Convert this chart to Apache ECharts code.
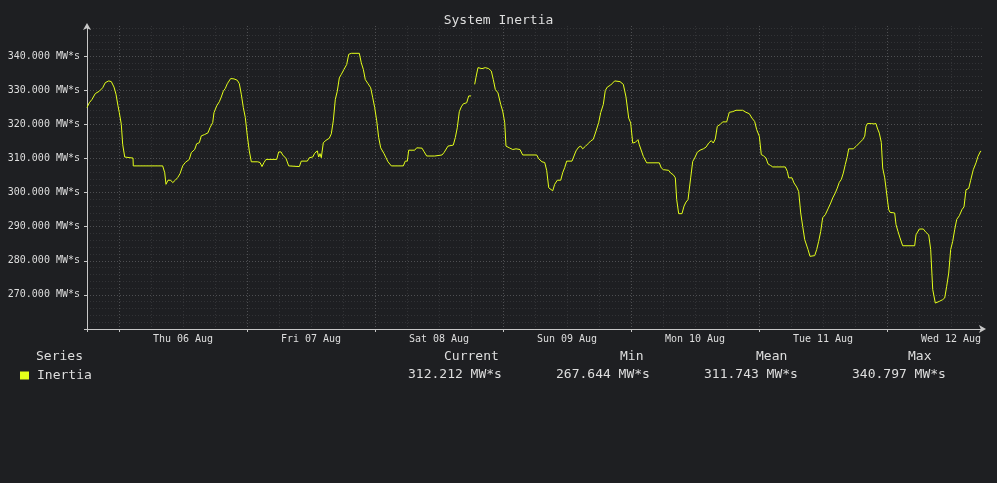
<!DOCTYPE html>
<html>
<head>
<meta charset="utf-8">
<script src="https://cdn.jsdelivr.net/npm/echarts@6/dist/echarts.min.js"></script>
<style>
  html, body { margin: 0; padding: 0; background: #1e1f22; }
  #chart { width: 997px; height: 483px; }
</style>
</head>
<body>
<div id="chart"></div>
<script>
// Hours relative to Thu 06 Aug 00:00
const hours = [
  -6.0, -5.57, -5.06, -4.44, -3.69, -3.06, -2.57, -1.93, -1.44, -0.94, -0.56, -0.19, 0.06, 0.43, 0.69, 1.07, 2.06, 2.63, 2.68,
  8.19, 8.57, 8.81, 9.19, 9.69, 10.07, 10.56, 11.01, 11.44, 11.94, 12.43, 13.18, 13.56, 14.19, 14.57, 15.06, 15.43, 16.07, 16.69,
  17.06, 17.57, 17.81, 18.32, 18.81, 19.18, 19.56, 19.93, 20.31, 20.94, 21.56, 22.18, 22.56, 22.93, 23.31, 23.68, 24.06, 24.43,
  24.81, 26.01, 26.44, 26.81, 27.19, 27.56, 29.57, 29.94, 30.38, 30.69, 31.31, 31.82, 33.81, 34.18, 35.31, 35.68, 36.32, 36.69,
  37.18, 37.44, 37.69, 37.93, 38.31, 38.81, 39.43, 39.81, 40.18, 40.56, 40.93, 41.31, 41.68, 42.19, 42.69, 43.07, 43.56, 45.06,
  45.43, 45.81, 46.18, 46.69, 47.19, 47.57, 47.94, 48.32, 48.69, 49.07, 49.69, 50.06, 50.44, 51.06, 53.31, 53.68, 54.06, 54.32,
  55.44, 55.82, 56.81, 57.19, 57.69, 59.19, 59.44, 60.56, 60.94, 61.31, 61.69, 62.68, 63.06, 63.43, 63.81, 64.18, 64.56, 65.19,
  65.57, 66.0, 66.3, 66.69, 66.94, 67.31, 68.06, 68.68, 69.32, 69.81, 70.18, 70.56, 71.06, 71.57, 71.94, 72.32, 72.56, 73.18,
  73.82, 74.44, 75.19, 75.69, 78.32, 78.69, 79.31, 79.82, 80.19, 80.57, 81.32, 81.69, 82.18, 82.82, 83.19, 83.57, 83.94, 84.94,
  85.31, 85.69, 86.19, 86.57, 86.94, 87.43, 87.94, 88.44, 88.93, 89.44, 89.94, 90.32, 90.81, 91.18, 91.56, 92.19, 92.94, 93.94,
  94.56, 95.06, 95.57, 95.94, 96.32, 96.81, 97.31, 97.56, 97.93, 98.31, 98.94, 101.31, 101.68, 102.06, 103.07, 103.44, 103.93,
  104.31, 104.57, 104.94, 105.56, 105.94, 106.31, 106.69, 107.19, 107.57, 107.94, 108.43, 108.94, 109.56, 110.06, 110.57, 111.06,
  111.43, 111.81, 112.18, 112.69, 113.19, 113.94, 114.43, 115.07, 115.69, 116.94, 117.56, 118.18, 118.69, 119.19, 119.57, 120.06,
  120.43, 120.81, 121.31, 121.69, 122.19, 122.57, 124.93, 125.31, 125.57, 126.19, 126.56, 127.07, 127.44, 127.82, 128.19, 128.57,
  128.81, 129.19, 129.56, 130.44, 130.82, 131.19, 131.57, 131.94, 132.43, 132.94, 133.44, 133.82, 134.31, 134.68, 135.06, 135.43,
  135.81, 136.18, 136.56, 136.82, 137.68, 138.19, 138.81, 139.44, 139.82, 140.06, 140.31, 141.06, 141.56, 141.94, 142.18, 142.56,
  142.93, 143.19, 143.57, 143.81, 144.06, 144.32, 144.56, 145.44, 145.69, 146.06, 146.44, 146.94, 149.19, 149.44, 149.81, 150.06,
  150.81, 151.31, 151.82, 152.19, 152.57, 153.06, 153.81, 154.44, 154.82, 155.19, 155.57, 155.94, 156.32, 156.69, 157.07, 157.56,
  158.06, 158.44, 158.81, 159.32, 159.69, 160.18, 160.69, 161.06, 161.57
];
const inertia = [
  324.9, 326.3, 327.3, 329.0, 329.7, 330.7, 332.2, 332.7, 332.5, 330.9, 328.8, 325.4, 323.4, 320.0, 314.1, 310.4, 310.2, 310.1, 307.8,
  307.8, 305.8, 302.4, 303.6, 303.6, 302.9, 303.6, 304.4, 305.5, 307.8, 308.8, 309.7, 311.7, 312.6, 314.3, 314.6, 316.6, 317.0, 317.5,
  319.0, 320.5, 323.4, 325.4, 326.6, 328.0, 329.7, 330.5, 331.9, 333.4, 333.3, 332.9, 331.9, 328.8, 324.9, 322.0, 316.6, 312.2,
  309.0, 309.0, 308.8, 307.6, 308.8, 309.7, 309.7, 311.9, 311.9, 311.0, 310.0, 307.8, 307.6, 309.2, 309.2, 310.2, 310.4, 311.5,
  312.2, 310.4, 311.4, 310.2, 314.6, 315.3, 315.9, 317.2, 321.0, 327.3, 329.7, 333.6, 334.6, 336.1, 337.5, 340.5, 340.8, 340.8,
  338.0, 336.1, 333.1, 331.9, 330.7, 327.8, 324.9, 321.0, 316.1, 313.1, 311.4, 310.2, 309.0, 307.8, 307.8, 309.2, 309.2, 312.4,
  312.4, 313.1, 313.0, 312.0, 310.7, 310.7, 311.0, 311.0, 311.7, 312.2, 313.6, 313.9, 316.1, 319.0, 323.7, 325.1, 326.0, 326.3,
  328.3, 328.3, null, 331.7, 333.8, 336.6, 336.3, 336.6, 336.3, 335.6, 333.1, 330.2, 329.2, 325.8, 323.9, 320.5, 313.6, 313.1,
  312.6, 312.8, 312.6, 311.0, 311.0, 309.9, 309.0, 308.8, 306.5, 301.4, 300.5, 302.4, 303.6, 303.6, 305.8, 307.3, 309.2, 309.2,
  310.7, 312.2, 313.3, 313.6, 312.8, 313.5, 314.3, 315.1, 315.6, 318.0, 320.5, 323.4, 325.8, 329.9, 330.9, 331.5, 332.7, 332.5,
  331.7, 328.0, 321.8, 320.4, 314.5, 314.7, 315.5, 314.0, 313.7, 310.6, 308.7, 308.7, 307.2, 306.7, 306.5, 305.7, 305.2,
  304.3, 297.9, 293.8, 293.8, 296.0, 297.2, 297.9, 304.3, 309.1, 310.1, 311.8, 312.4, 312.8, 313.3, 314.5, 315.2,
  314.5, 315.7, 319.4, 319.9, 320.7, 320.7, 323.5, 323.7, 324.1, 324.1, 323.5, 323.1, 321.8, 320.8, 318.4, 316.5,
  311.1, 310.8, 310.1, 308.4, 307.9, 307.5, 307.5, 306.2, 304.3, 304.3, 302.8, 301.6, 300.3, 294.0, 290.1, 286.2,
  285.7, 283.3, 281.3, 281.5, 283.3, 285.7, 288.6, 292.6, 293.5, 295.2, 296.9, 298.4, 299.9, 301.3, 303.0, 303.8,
  305.7, 308.2, 310.6, 312.8, 312.8, 313.5, 314.5, 315.5, 316.5, 319.4, 320.2, 320.2, 320.1, 320.2, 318.9, 317.4,
  314.7, 307.2, 304.3, 301.3, 298.1, 295.0, 294.2, 294.0, 290.6, 288.6, 286.7, 284.4, 284.4, 287.6, 287.9, 289.3,
  289.3, 288.3, 287.6, 283.3, 271.6, 267.6, 268.1, 268.6, 269.1, 272.5, 276.4, 283.3, 285.7, 289.1, 292.1, 293.2,
  295.0, 295.8, 300.8, 301.2, 303.6, 306.7, 308.7, 310.6, 312.2
];
const dayLabels = ['Thu 06 Aug', 'Fri 07 Aug', 'Sat 08 Aug', 'Sun 09 Aug', 'Mon 10 Aug', 'Tue 11 Aug', 'Wed 12 Aug'];
const dayStartHours = [0, 24, 48, 72, 96, 120, 144];
const yMajorTicks = [260, 270, 280, 290, 300, 310, 320, 330, 340];
const yLabelValues = [270, 280, 290, 300, 310, 320, 330, 340];
const seriesName = 'Inertia';
const unit = 'MW*s';
const statHeaders = ['Current', 'Min', 'Mean', 'Max'];
const statValues = [312.212, 267.644, 311.743, 340.797];

const X_MIN = -6, X_MAX = 162, X_STEP = 6;
const Y_MIN = 260, Y_MAX = 348.8, Y_MINOR = 2;

const BG = '#1e1f22';
const MAJOR = '#4e4f52';
const MINOR = '#323336';
const AXIS = '#c8c8c8';
const TXT = '#dedede';
const LINE = '#e4ff1a';
const FONT = 'DejaVu Sans Mono';

const data = hours.map((h, i) => [h, inertia[i]]);

// split-line colour per tick (x): edges hidden, day boundaries major, 6h minor
const xColors = [];
for (let h = X_MIN, i = 0; h <= X_MAX + 1e-9; h += X_STEP, i++) {
  if (h === X_MIN || h === X_MAX) xColors.push('rgba(0,0,0,0)');
  else xColors.push(((h % 24) + 24) % 24 === 0 ? MAJOR : MINOR);
}
// minor y split lines
const yMinorColors = [];
for (let v = Y_MIN; v <= Y_MAX + 1e-9; v += Y_MINOR) {
  if (v === Y_MIN || Math.abs(v % 10) < 1e-9) yMinorColors.push('rgba(0,0,0,0)');
  else yMinorColors.push(MINOR);
}
yMinorColors.push('rgba(0,0,0,0)');
yMinorColors.push('rgba(0,0,0,0)');
const yMajorColors = ['rgba(0,0,0,0)'].concat(yLabelValues.map(() => MAJOR)).concat(['rgba(0,0,0,0)']);

const chart = echarts.init(document.getElementById('chart'));

const statX = [408, 556, 704, 852];
const headX = [444, 620, 756, 908];
const graphics = [];
graphics.push({ type: 'text', left: 36, top: 350, style: { text: 'Series', fill: TXT, font: '13px "' + FONT + '"' } });
statHeaders.forEach((t, i) => {
  graphics.push({ type: 'text', left: headX[i], top: 350, style: { text: t, fill: TXT, font: '13px "' + FONT + '"' } });
  graphics.push({ type: 'text', left: statX[i], top: 368, style: { text: statValues[i].toFixed(3) + ' ' + unit, fill: TXT, font: '13px "' + FONT + '"' } });
});

chart.setOption({
  backgroundColor: BG,
  animation: false,
  title: {
    text: 'System Inertia', left: 'center', top: 9,
    textStyle: { color: TXT, fontSize: 13, fontWeight: 'normal', fontFamily: FONT }
  },
  legend: {
    data: [seriesName], left: 20, top: 369, padding: 0, icon: 'rect', itemWidth: 9, itemHeight: 8,
    textStyle: { color: TXT, fontSize: 13, fontFamily: FONT, padding: [0, 0, 0, 3] },
    selectedMode: false
  },
  graphic: graphics,
  grid: { left: 87, right: 14, top: 26, bottom: 154, containLabel: false },
  xAxis: [
    {
      type: 'value', min: X_MIN, max: X_MAX, interval: X_STEP, position: 'bottom',
      axisLine: { show: true, onZero: false, lineStyle: { color: AXIS, width: 1 }, symbol: ['none', 'arrow'], symbolSize: [6, 7], symbolOffset: [0, 3] },
      axisTick: { show: false },
      axisLabel: {
        show: true, color: TXT, fontSize: 10, fontFamily: FONT, margin: 5,
        showMinLabel: true, showMaxLabel: true,
        formatter: (v) => {
          const r = ((v % 24) + 24) % 24;
          if (Math.abs(r - 12) > 1e-6) return '';
          const idx = Math.round((v - 12) / 24);
          return dayLabels[idx] || '';
        }
      },
      splitLine: { show: true, lineStyle: { color: xColors, type: [1, 2], width: 1 } }
    },
    {
      type: 'value', min: X_MIN, max: X_MAX, position: 'bottom',
      axisLine: { show: false, onZero: false },
      axisTick: { show: true, length: 3, lineStyle: { color: AXIS }, customValues: [X_MIN].concat(dayStartHours) },
      axisLabel: { show: false },
      splitLine: { show: false }
    }
  ],
  yAxis: [
    {
      type: 'value', min: Y_MIN, max: Y_MAX, interval: 10, position: 'left',
      axisLine: { show: true, onZero: false, lineStyle: { color: AXIS, width: 1 }, symbol: ['none', 'arrow'], symbolSize: [6, 7], symbolOffset: [0, 3] },
      axisTick: { show: true, length: 3, lineStyle: { color: AXIS }, customValues: yMajorTicks },
      axisLabel: {
        show: true, color: TXT, fontSize: 10, fontFamily: FONT, margin: 7,
        customValues: yLabelValues,
        formatter: (v) => v.toFixed(3) + ' ' + unit
      },
      splitLine: { show: true, lineStyle: { color: yMajorColors, type: [1, 2], width: 1 } }
    },
    {
      type: 'value', min: Y_MIN, max: Y_MAX, interval: Y_MINOR, position: 'left',
      axisLine: { show: false, onZero: false }, axisTick: { show: false }, axisLabel: { show: false },
      splitLine: { show: true, lineStyle: { color: yMinorColors, type: [1, 2], width: 1 } }
    }
  ],
  series: [{
    name: seriesName, type: 'line', data: data, xAxisIndex: 0, yAxisIndex: 0,
    showSymbol: false, symbol: 'none', connectNulls: false,
    lineStyle: { color: LINE, width: 1 }, itemStyle: { color: LINE }, z: 5
  }]
});
</script>
</body>
</html>
